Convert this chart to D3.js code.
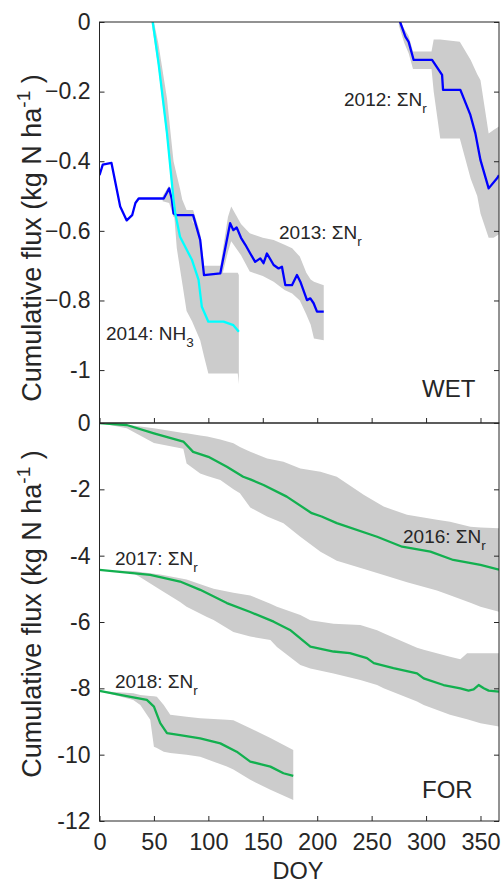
<!DOCTYPE html>
<html><head><meta charset="utf-8">
<script src="https://cdn.jsdelivr.net/npm/d3@7"></script>
<style>body{margin:0;background:#fff}svg{display:block}text{font-family:"Liberation Sans",Arial,sans-serif;fill:#262626}</style>
</head><body><svg id="c" width="501" height="885"></svg>
<script>
// ---------- DATA ----------
const xTicks = [0, 50, 100, 150, 200, 250, 300, 350];
const wetTicks = [0, -0.2, -0.4, -0.6, -0.8, -1];
const forTicks = [0, -2, -4, -6, -8, -10, -12];

// WET panel
const w2012Doy  = [275, 281, 284, 288.6, 305.5, 314.7, 315.6, 331.5, 340.7, 345.3, 350, 357.5, 365.2, 367];
const w2012Mean = [0.01, -0.042, -0.057, -0.109, -0.109, -0.152, -0.195, -0.195, -0.267, -0.32, -0.397, -0.478, -0.449, -0.44];
const w2012BandDoy = [275, 280, 284, 288, 305, 307, 313, 331, 341, 347, 350, 357.5, 362, 367];
const w2012Hi = [0.01, -0.02, -0.04, -0.085, -0.085, -0.05, -0.05, -0.057, -0.109, -0.15, -0.167, -0.32, -0.31, -0.30];
const w2012Lo = [-0.01, -0.06, -0.09, -0.135, -0.135, -0.2, -0.335, -0.335, -0.45, -0.5, -0.55, -0.62, -0.62, -0.61];

const w2013Doy  = [0, 3, 11, 19, 25, 30, 33, 36, 59, 62, 64, 66.5, 68, 71, 86, 92.5, 96, 111, 120, 123, 126, 130, 134, 138.5, 143, 147.7, 150.7, 153.8, 160, 164.5, 167.6, 170.7, 176.8, 181.4, 184.5, 190.6, 193.7, 196.7, 199.8, 206];
const w2013Mean = [-0.44, -0.41, -0.405, -0.53, -0.57, -0.555, -0.52, -0.507, -0.507, -0.49, -0.478, -0.51, -0.55, -0.555, -0.555, -0.626, -0.727, -0.722, -0.578, -0.598, -0.59, -0.62, -0.64, -0.665, -0.689, -0.679, -0.693, -0.665, -0.698, -0.708, -0.703, -0.756, -0.756, -0.727, -0.746, -0.799, -0.794, -0.808, -0.832, -0.832];
const w2013BandDoy = [58, 64, 68, 86, 92, 96, 111, 118, 121, 130, 138, 150, 160, 170, 177, 184, 190, 194, 197, 206];
const w2013Hi = [-0.50, -0.47, -0.54, -0.54, -0.60, -0.70, -0.70, -0.56, -0.53, -0.58, -0.607, -0.62, -0.626, -0.64, -0.65, -0.674, -0.72, -0.74, -0.746, -0.756];
const w2013Lo = [-0.515, -0.52, -0.56, -0.57, -0.65, -0.75, -0.75, -0.66, -0.63, -0.67, -0.717, -0.73, -0.746, -0.77, -0.78, -0.80, -0.84, -0.87, -0.909, -0.914];

const w2014Doy  = [48, 54.3, 62, 68, 69.6, 74, 85, 91, 94, 100, 114, 123, 128];
const w2014Mean = [0.02, -0.12, -0.32, -0.51, -0.55, -0.617, -0.684, -0.741, -0.818, -0.861, -0.861, -0.871, -0.89];
const w2014BandDoy = [48, 54, 62, 68, 71, 74, 76, 80, 85, 92.5, 96, 100, 127, 128];
const w2014Hi = [0.03, -0.06, -0.22, -0.40, -0.44, -0.48, -0.51, -0.54, -0.57, -0.61, -0.70, -0.72, -0.72, -0.727];
const w2014Lo = [-0.005, -0.13, -0.34, -0.53, -0.65, -0.71, -0.75, -0.83, -0.86, -0.914, -0.96, -1.01, -1.01, -1.04];

// FOR panel
const f2016Doy  = [0, 25, 50, 77, 86, 100, 117, 132, 138.5, 150.7, 172, 195, 204, 218, 255, 278, 304, 325, 350, 367];
const f2016Mean = [0, -0.06, -0.31, -0.56, -0.87, -1.02, -1.32, -1.62, -1.70, -1.87, -2.22, -2.72, -2.82, -3.02, -3.43, -3.73, -3.88, -4.13, -4.28, -4.42];
const f2016BandDoy = [0, 25, 50, 77, 80, 92.5, 99, 111, 123, 129, 138.5, 154, 169, 184.5, 203, 218, 243, 261, 282.5, 310, 322, 340.7, 350, 367];
const f2016Hi = [0, -0.05, -0.16, -0.30, -0.31, -0.38, -0.41, -0.5, -0.61, -0.72, -0.87, -1.07, -1.17, -1.37, -1.47, -1.62, -2.17, -2.52, -2.77, -2.92, -2.98, -3.13, -3.15, -3.17];
const f2016Lo = [0, -0.16, -0.6, -0.78, -1.22, -1.52, -1.6, -1.72, -2.0, -2.12, -2.55, -2.82, -3.02, -3.43, -3.88, -4.15, -4.4, -4.58, -4.8, -5.05, -5.19, -5.42, -5.54, -5.69];

const f2017Doy  = [0, 46.6, 74, 92.5, 117, 138.5, 160, 175, 193.7, 215, 230, 245.7, 252, 270, 291.7, 297.8, 316, 331.5, 339, 343.7, 348.3, 353, 357.5, 367];
const f2017Mean = [-4.43, -4.58, -4.78, -5.03, -5.43, -5.70, -5.99, -6.24, -6.74, -6.89, -6.94, -7.09, -7.24, -7.39, -7.55, -7.70, -7.90, -8.0, -8.07, -8.03, -7.90, -8.0, -8.07, -8.1];
const f2017BandDoy = [0, 31, 37.5, 55.8, 74, 80, 98.7, 104.8, 123, 138.5, 157, 163, 184.5, 193.7, 215, 239.6, 255, 261, 291.7, 297.8, 322, 331.5, 337.7, 350, 367];
const f2017Hi = [-4.43, -4.46, -4.49, -4.57, -4.68, -4.72, -4.93, -5.0, -5.12, -5.2, -5.45, -5.54, -5.79, -5.95, -6.05, -6.09, -6.25, -6.34, -6.78, -6.84, -7.05, -7.12, -6.94, -6.94, -6.94];
const f2017Lo = [-4.43, -4.53, -4.65, -5.03, -5.4, -5.54, -5.85, -5.94, -6.3, -6.44, -6.54, -6.75, -7.3, -7.4, -7.55, -7.75, -7.9, -8.0, -8.4, -8.5, -8.8, -8.88, -8.93, -9.05, -9.15];

const f2018Doy  = [0, 31, 43.5, 50, 55.8, 62, 74, 92.5, 111, 126, 138.5, 157, 169, 178];
const f2018Mean = [-8.08, -8.27, -8.35, -8.55, -9.05, -9.35, -9.41, -9.51, -9.66, -9.91, -10.21, -10.36, -10.56, -10.64];
const f2018BandDoy = [0, 31, 37.5, 46.6, 50, 52.7, 59, 65, 80, 92.5, 117, 123, 138.5, 157, 178];
const f2018Hi = [-8.08, -8.15, -8.2, -8.23, -8.24, -8.25, -8.5, -8.8, -8.86, -8.9, -8.95, -8.96, -9.2, -9.5, -9.86];
const f2018Lo = [-8.08, -8.35, -8.5, -8.95, -9.76, -9.8, -9.91, -9.95, -10.0, -10.06, -10.36, -10.45, -10.76, -11.06, -11.37];

// ---------- DRAW ----------
const svg = d3.select("#c");
const L = 99.5, R = 499;
const x = d3.scaleLinear().domain([0, 367]).range([L, R]);
const yW = d3.scaleLinear().domain([-1.152, 0]).range([423, 22]);
const yF = d3.scaleLinear().domain([-12, 0]).range([821, 423]);
const BAND = "#cccccc", AX = "#262626";
const zip = (d, a, b) => d.map((v, i) => ({x: v, a: a[i], b: b ? b[i] : null}));

function panel(id, y) {
  const [y1, y0] = y.range();
  svg.append("clipPath").attr("id", id).append("rect")
    .attr("x", L).attr("y", y0).attr("width", R - L).attr("height", y1 - y0);
  return svg.append("g").attr("clip-path", `url(#${id})`);
}
const gW = panel("cw", yW), gF = panel("cf", yF);

function band(g, y, d, hi, lo) {
  g.append("path").datum(zip(d, hi, lo)).attr("fill", BAND).attr("stroke", "none")
    .attr("d", d3.area().x(p => x(p.x)).y0(p => y(p.b)).y1(p => y(p.a)));
}
function line(g, y, d, m, col) {
  g.append("path").datum(zip(d, m)).attr("fill", "none").attr("stroke", col)
    .attr("stroke-width", 2.3).attr("stroke-linejoin", "round")
    .attr("d", d3.line().x(p => x(p.x)).y(p => y(p.a)));
}
band(gW, yW, w2012BandDoy, w2012Hi, w2012Lo);
band(gW, yW, w2014BandDoy, w2014Hi, w2014Lo);
band(gW, yW, w2013BandDoy, w2013Hi, w2013Lo);
line(gW, yW, w2012Doy, w2012Mean, "#0000ff");
line(gW, yW, w2013Doy, w2013Mean, "#0000ff");
line(gW, yW, w2014Doy, w2014Mean, "#00ffff");

band(gF, yF, f2016BandDoy, f2016Hi, f2016Lo);
band(gF, yF, f2017BandDoy, f2017Hi, f2017Lo);
band(gF, yF, f2018BandDoy, f2018Hi, f2018Lo);
const GREEN = "#12b04f";
line(gF, yF, f2016Doy, f2016Mean, GREEN);
line(gF, yF, f2017Doy, f2017Mean, GREEN);
line(gF, yF, f2018Doy, f2018Mean, GREEN);

// axes
function axes(y, ticks, fmt, showX) {
  const [b, t] = y.range();
  const g = svg.append("g");
  g.append("g").attr("transform", `translate(${L},0)`)
    .call(d3.axisLeft(y).tickValues(ticks).tickSize(-5).tickPadding(9).tickFormat(fmt))
    .call(s => { s.select(".domain").remove(); s.selectAll("text").attr("font-size", 23).attr("fill", AX); s.selectAll("line").attr("stroke", AX); });
  g.append("g").attr("transform", `translate(${R},0)`)
    .call(d3.axisRight(y).tickValues(ticks).tickSize(-5).tickFormat(""))
    .call(s => { s.select(".domain").remove(); s.selectAll("line").attr("stroke", AX); });
  g.append("g").attr("transform", `translate(0,${b})`)
    .call(d3.axisBottom(x).tickValues(xTicks).tickSize(-5).tickPadding(12).tickFormat(showX ? d3.format("d") : ""))
    .call(s => { s.select(".domain").remove(); s.selectAll("text").attr("font-size", 23.5).attr("fill", AX); s.selectAll("line").attr("stroke", AX); });
  g.append("rect").attr("x", L).attr("y", t).attr("width", R - L).attr("height", b - t)
    .attr("fill", "none").attr("stroke", AX).attr("stroke-width", 1);
}
axes(yW, wetTicks, d => d === 0 ? "0" : d === -1 ? "-1" : d3.format(".1f")(d), false);
axes(yF, forTicks, d => String(d), true);

// labels
function ylab(cy) {
  const t = svg.append("text").attr("transform", `translate(41,${cy}) rotate(-90)`)
    .attr("text-anchor", "middle").attr("font-size", 27);
  t.append("tspan").text("Cumulative flux (kg N ha");
  t.append("tspan").attr("font-size", 19).attr("dy", -11).text("-1");
  t.append("tspan").attr("dy", 11).text(" )");
}
ylab(238); ylab(614);
svg.append("text").attr("x", 298).attr("y", 879).attr("text-anchor", "middle").attr("font-size", 23.5).text("DOY");

function ann(px, py, main, sub) {
  const t = svg.append("text").attr("x", px).attr("y", py).attr("font-size", 19);
  t.append("tspan").text(main);
  t.append("tspan").attr("font-size", 13.5).attr("dy", 7).text(sub);
}
ann(344, 106, "2012: \u03A3N", "r");
ann(279, 239, "2013: \u03A3N", "r");
ann(106, 340, "2014: NH", "3");
ann(403, 543, "2016: \u03A3N", "r");
ann(115, 565, "2017: \u03A3N", "r");
ann(115, 688, "2018: \u03A3N", "r");
svg.append("text").attr("x", 422).attr("y", 397).attr("font-size", 24).text("WET");
svg.append("text").attr("x", 422).attr("y", 798).attr("font-size", 24).text("FOR");
</script></body></html>
